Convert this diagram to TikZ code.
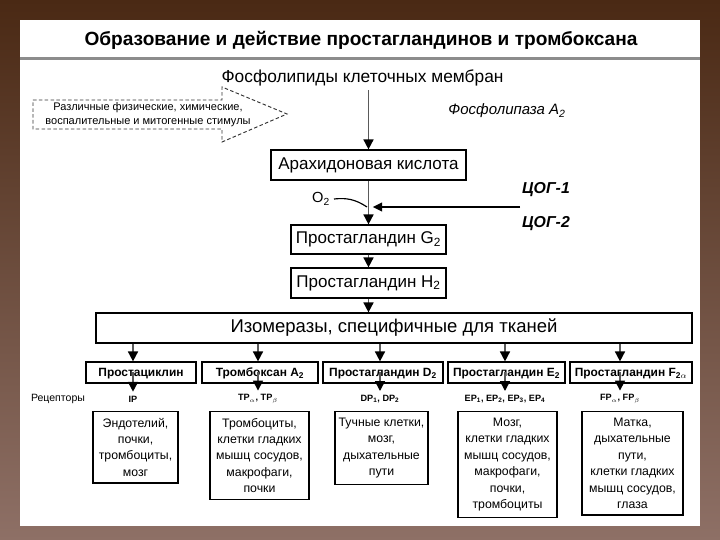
\documentclass[tikz,border=0pt]{standalone}
\usepackage{fontspec}
\setmainfont{Liberation Sans}
\usetikzlibrary{arrows.meta,positioning,calc}
\definecolor{slidetop}{HTML}{4A2914}
\definecolor{slidebot}{HTML}{8E7066}
\definecolor{rulegray}{HTML}{8C8C8C}
\definecolor{trunk}{HTML}{5A5A5A}
\tikzset{
  stage/.style={draw=black,line width=1pt,fill=white,inner sep=0pt,
                text height=0.74em,text depth=0.02em,
                font=\fontsize{14.5}{17}\selectfont},
  kind/.style={draw=black,line width=1pt,fill=white,inner sep=0pt,
               text height=0.74em,text depth=0.02em,
               minimum height=0.63cm,font=\bfseries\fontsize{10.2}{12}\selectfont},
  tissue/.style={draw=black,line width=1pt,fill=white,anchor=north,align=center,
                 inner xsep=0pt,inner ysep=5.5pt,font=\fontsize{10.5}{14}\selectfont},
  recep/.style={font=\bfseries\fontsize{7.8}{9}\selectfont},
  flow/.style={draw=trunk,line width=1.4pt,
               -{Triangle[length=8.5pt,width=8.5pt,color=black]}},
  enzyme/.style={font=\bfseries\itshape\fontsize{13.5}{15}\selectfont},
}
\begin{document}
\begin{tikzpicture}[x=0.03cm,y=-0.03cm]
  \useasboundingbox (0,0) rectangle (720,540);
  % the slide behind the sheet
  \shade[top color=slidetop,middle color=slidetop!85!slidebot,bottom color=slidebot]
    (0,0) rectangle (720,540);
  \fill[white] (20,20) rectangle (700,526);
  \fill[rulegray] (20,57) rectangle (700,60);
  \node[font=\bfseries\fontsize{16.3}{19}\selectfont] (title) at (361,40)
    {Образование и действие простагландинов и тромбоксана};

  % trunk of the pathway
  \node[font=\fontsize{14.8}{17}\selectfont] (lipids) at (362.5,78) {Фосфолипиды клеточных мембран};
  \node[font=\itshape\fontsize{12.8}{14}\selectfont] (pla) at (507,111) {Фосфолипаза A\textsubscript{2}};
  \node[stage,minimum width=5.85cm,minimum height=0.9cm] (ara) at (368.5,165) {Арахидоновая кислота};
  \node[stage,minimum width=4.65cm,minimum height=0.87cm] (pgg) at (368.5,239.5) {Простагландин G\textsubscript{2}};
  \node[stage,minimum width=4.65cm,minimum height=0.9cm] (pgh) at (368.5,283) {Простагландин H\textsubscript{2}};
  \node[stage,minimum width=17.88cm,minimum height=0.9cm,font=\fontsize{15.8}{18}\selectfont]
    (iso) at (394,328) {Изомеразы, специфичные для тканей};
  \draw[flow] (ara.north |- lipids.south) -- (ara.north);
  \draw[flow] (ara.south) -- (pgg.north);
  \draw[flow] (pgg.south) -- (pgh.north);
  \draw[flow] (pgh.south) -- (iso.north -| pgh.south);

  % stimuli, dashed block arrow
  \draw[draw=black!80,line width=0.8pt,dash pattern=on 3pt off 2pt]
    (33,100) -- (222,100) -- (222,87) -- (287,114) -- (222,142) -- (222,129) -- (33,129) -- cycle;
  \node[align=center,font=\fontsize{9.4}{11.5}\selectfont] (stim) at (148,114.5)
    {Различные физические, химические,\\воспалительные и митогенные стимулы};

  % oxygen and cyclooxygenases
  \coordinate (join) at (367,207);
  \coordinate (coxtail) at (520,207);
  \node[font=\fontsize{12.5}{14}\selectfont] (o2) at (321,199) {O\textsubscript{2}};
  \draw[line width=1pt] (o2.east) to[bend left=20] (join);
  \draw[line width=1.6pt,-{Triangle[length=8pt,width=7.5pt]},shorten >=5pt] (coxtail) -- (join);
  \node[enzyme] (cox1) at (546,190) {ЦОГ-1};
  \node[enzyme] (cox2) at (546,224) {ЦОГ-2};

  % products of the isomerases
  \node[kind,minimum width=3.3cm]  (pcyc) at (141,372.5)   {Простациклин};
  \node[kind,minimum width=3.48cm] (txa)  at (260,372.5)   {Тромбоксан A\textsubscript{2}};
  \node[kind,minimum width=3.6cm]  (pgd)  at (383,372.5)   {Простагландин D\textsubscript{2}};
  \node[kind,minimum width=3.51cm] (pge)  at (506.5,372.5) {Простагландин E\textsubscript{2}};
  \node[kind,minimum width=3.66cm] (pgf)  at (631,372.5)   {Простагландин F\textsubscript{2$\alpha$}};

  % receptors
  \node[font=\fontsize{9}{10}\selectfont] (rlabel) at (58,399) {Рецепторы};
  \node[recep] (rip) at (133,399) {IP};
  \node[recep] (rtp) at (258,399) {TP\textsubscript{$\alpha$}, TP\textsubscript{$\beta$}};
  \node[recep] (rdp) at (380,399) {DP\textsubscript{1}, DP\textsubscript{2}};
  \node[recep] (rep) at (505,399) {EP\textsubscript{1}, EP\textsubscript{2}, EP\textsubscript{3}, EP\textsubscript{4}};
  \node[recep] (rfp) at (620,399) {FP\textsubscript{$\alpha$}, FP\textsubscript{$\beta$}};
  \foreach \prod/\rec in {pcyc/rip,txa/rtp,pgd/rdp,pge/rep,pgf/rfp}{
    \draw[flow] (iso.south -| \rec) -- (\prod.north -| \rec);
    \draw[flow] (\prod.center -| \rec) -- (\rec.north);
  }

  % target tissues
  \node[tissue,minimum width=2.55cm] (tis1) at (135.5,411)
    {Эндотелий,\\почки,\\тромбоциты,\\мозг};
  \node[tissue,minimum width=2.97cm] (tis2) at (259.5,411)
    {Тромбоциты,\\клетки гладких\\мышц сосудов,\\макрофаги,\\почки};
  \node[tissue,minimum width=2.79cm] (tis3) at (381.5,411)
    {Тучные клетки,\\мозг,\\дыхательные\\пути};
  \node[tissue,minimum width=2.97cm] (tis4) at (507.5,411)
    {Мозг,\\клетки гладких\\мышц сосудов,\\макрофаги,\\почки,\\тромбоциты};
  \node[tissue,minimum width=3.03cm] (tis5) at (632.5,411)
    {Матка,\\дыхательные\\пути,\\клетки гладких\\мышц сосудов,\\глаза};
\end{tikzpicture}
\end{document}
